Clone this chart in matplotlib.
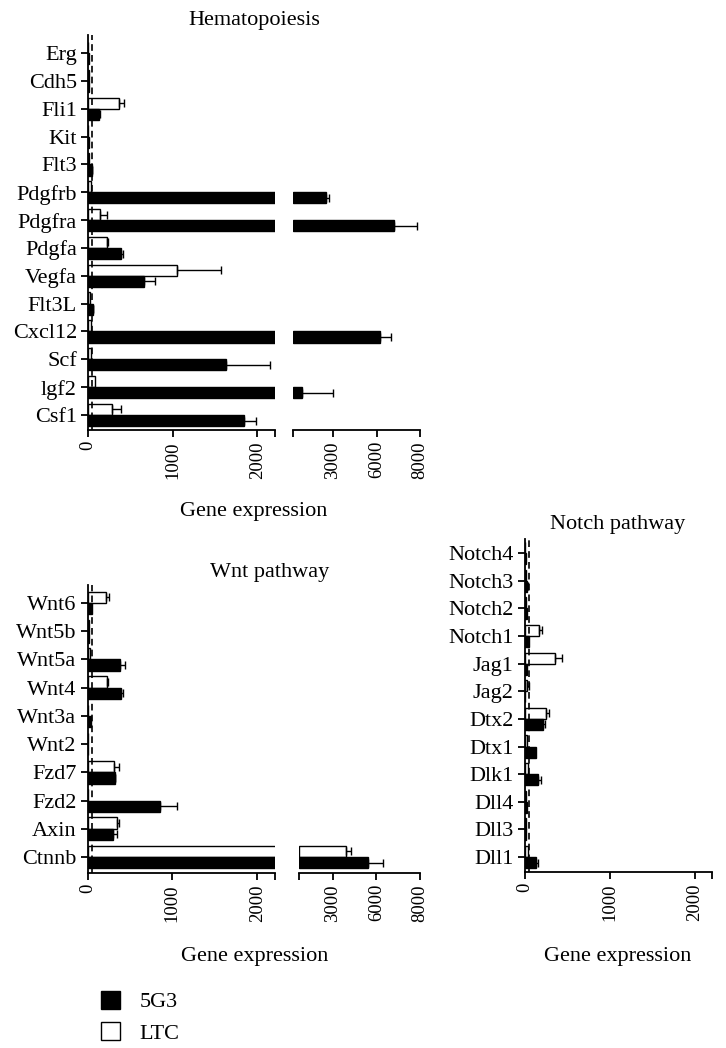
import numpy as np
import matplotlib
matplotlib.use("Agg")
import matplotlib.pyplot as plt
from matplotlib.patches import Patch

plt.rcParams['font.family'] = ['Liberation Serif', 'DejaVu Serif']
plt.rcParams['font.size'] = 16

# Hematopoiesis
hema_genes = ['Erg', 'Cdh5', 'Fli1', 'Kit', 'Flt3', 'Pdgfrb', 'Pdgfra', 'Pdgfa',
              'Vegfa', 'Flt3L', 'Cxcl12', 'Scf', 'lgf2', 'Csf1']
hema_ltc = [5, 8, 370, 5, 15, 30, 137, 224, 1054, 20, 40, 35, 83, 283]
hema_ltc_err = [0, 0, 60, 0, 0, 0, 87, 15, 516, 0, 0, 0, 0, 107]
hema_5g3 = [15, 10, 125, 10, 45, 2910, 6790, 390, 657, 59, 6140, 1630, 2610, 1845]
hema_5g3_err = [0, 0, 15, 0, 5, 40, 1070, 27, 138, 5, 500, 520, 390, 135]

# Wnt pathway
wnt_genes = ['Wnt6', 'Wnt5b', 'Wnt5a', 'Wnt4', 'Wnt3a', 'Wnt2', 'Fzd7', 'Fzd2', 'Axin', 'Ctnnb']
wnt_ltc = [220, 15, 30, 235, 0, 0, 315, 10, 350, 3890]
wnt_ltc_err = [30, 0, 0, 10, 0, 0, 60, 0, 25, 320]
wnt_5g3 = [50, 20, 380, 400, 45, 5, 320, 855, 295, 5420]
wnt_5g3_err = [0, 0, 60, 20, 0, 0, 10, 200, 55, 880]

# Notch pathway
notch_genes = ['Notch4', 'Notch3', 'Notch2', 'Notch1', 'Jag1', 'Jag2', 'Dtx2', 'Dtx1',
               'Dlk1', 'Dll4', 'Dll3', 'Dll1']
notch_ltc = [8, 10, 10, 172, 357, 30, 250, 30, 40, 20, 10, 40]
notch_ltc_err = [0, 0, 0, 32, 78, 25, 32, 0, 0, 0, 0, 0]
notch_5g3 = [10, 30, 30, 50, 30, 5, 220, 130, 153, 30, 15, 130]
notch_5g3_err = [0, 5, 0, 0, 0, 0, 20, 0, 40, 0, 0, 23]

W, H = 726, 1048
fig = plt.figure(figsize=(W / 100, H / 100), dpi=100)


def box(x0, x1, y0, y1):
    return [x0 / W, 1 - y1 / H, (x1 - x0) / W, (y1 - y0) / H]


def seg_scale(pk):
    # piecewise axis of the upper segment (uneven spacing as in the original)
    xk = np.array([2500, 3000, 6000, 8000], float)
    pk = np.array(pk, float)
    s0 = (pk[1] - pk[0]) / (xk[1] - xk[0])
    s1 = (pk[-1] - pk[-2]) / (xk[-1] - xk[-2])
    xe = np.r_[-1e6, xk, 1e6]
    pe = np.r_[pk[0] - s0 * (xk[0] + 1e6), pk, pk[-1] + s1 * (1e6 - xk[-1])]
    return (lambda v: np.interp(v, xe, pe)), (lambda p: np.interp(p, pe, xe))


def style(ax):
    for s in ['top', 'right']:
        ax.spines[s].set_visible(False)
    for s in ['left', 'bottom']:
        ax.spines[s].set_linewidth(1.3)
    ax.tick_params(which='both', direction='out', length=5, width=1.3, pad=3)
    ax.tick_params(axis='x', labelrotation=90, labelsize=13.5)


def panel(axL, axR, genes, ltc, ltc_err, g53, g53_err, left_max, ylim):
    y = np.arange(len(genes))
    for vals, errs, off, face in [(ltc, ltc_err, -0.2, 'white'), (g53, g53_err, 0.2, 'black')]:
        vals = np.array(vals, float)
        errs = np.array(errs, float)
        axL.barh(y + off, np.minimum(vals, left_max + 20), height=0.4, color=face,
                 edgecolor='black', linewidth=1)
        low = vals <= left_max
        m = low & (errs > 0)
        axL.errorbar(vals[m], y[m] + off, xerr=[np.zeros(m.sum()), errs[m]], fmt='none',
                     ecolor='black', elinewidth=1, capsize=3, capthick=1)
        if axR is not None and (~low).any():
            hi = ~low
            axR.barh(y[hi] + off, vals[hi] - 2500, left=2500, height=0.4, color=face,
                     edgecolor='black', linewidth=1)
            axR.errorbar(vals[hi], y[hi] + off, xerr=[np.zeros(hi.sum()), errs[hi]], fmt='none',
                         ecolor='black', elinewidth=1, capsize=3, capthick=1)
    axL.axvline(50, color='black', ls=(0, (4, 2.5)), lw=1.2, zorder=5)
    axL.set_xlim(0, left_max)
    axL.set_xticks([0, 1000, 2000])
    axL.set_xticks([left_max], minor=True)
    axL.set_yticks(y, genes)
    axL.set_ylim(*ylim)
    style(axL)
    if axR is not None:
        axR.set_xlim(2500, 8000)
        axR.set_xticks([3000, 6000, 8000])
        axR.set_xticks([2500], minor=True)
        axR.set_yticks([])
        axR.set_ylim(*ylim)
        style(axR)
        axR.spines['left'].set_visible(False)


# Hematopoiesis panel
hL = fig.add_axes(box(88, 275, 35, 430))
hR = fig.add_axes(box(293, 420, 35, 430))
f, i = seg_scale([0, 40, 84, 127])
hR.set_xscale('function', functions=(f, i))
panel(hL, hR, hema_genes, hema_ltc, hema_ltc_err, hema_5g3, hema_5g3_err, 2210, (13.54, -0.65))
fig.text(254 / W, 1 - 20 / H, 'Hematopoiesis', ha='center', va='center')
fig.text(254 / W, 1 - 512 / H, 'Gene expression', ha='center', va='center')

# Wnt panel
wL = fig.add_axes(box(87.5, 275, 585, 873))
wR = fig.add_axes(box(299, 420, 585, 873))
f, i = seg_scale([0, 34, 77.4, 121])
wR.set_xscale('function', functions=(f, i))
panel(wL, wR, wnt_genes, wnt_ltc, wnt_ltc_err, wnt_5g3, wnt_5g3_err, 2210, (9.57, -0.64))
fig.text(270 / W, 1 - 572 / H, 'Wnt pathway', ha='center', va='center')
fig.text(255 / W, 1 - 957 / H, 'Gene expression', ha='center', va='center')

# Notch panel
nL = fig.add_axes(box(524.7, 711.7, 539, 872))
panel(nL, None, notch_genes, notch_ltc, notch_ltc_err, notch_5g3, notch_5g3_err, 2200,
      (11.54, -0.51))
fig.text(618 / W, 1 - 525 / H, 'Notch pathway', ha='center', va='center')
fig.text(618 / W, 1 - 957 / H, 'Gene expression', ha='center', va='center')

handles = [Patch(facecolor='black', edgecolor='black', label='5G3'),
           Patch(facecolor='white', edgecolor='black', label='LTC')]
fig.legend(handles=handles, loc='upper left', bbox_to_anchor=(92 / W, 1 - 982 / H),
           frameon=False, handlelength=0.85, handleheight=0.85, handletextpad=0.9,
           labelspacing=0.45, borderaxespad=0)

fig.savefig('out.png', dpi=100)
